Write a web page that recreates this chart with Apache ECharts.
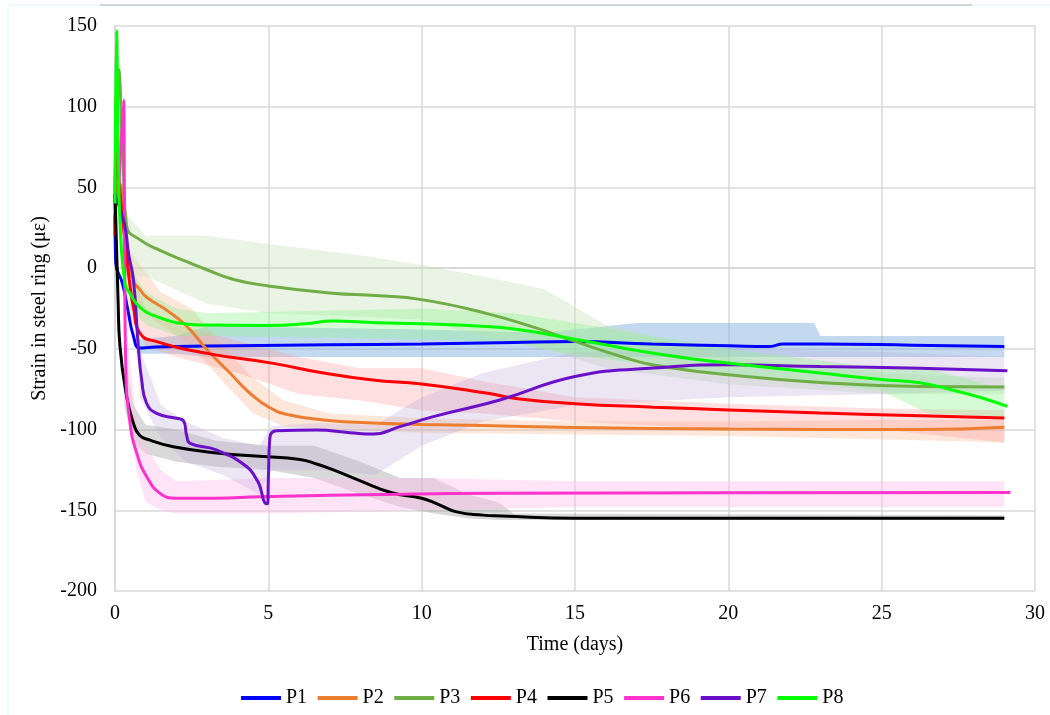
<!DOCTYPE html>
<html>
<head>
<meta charset="utf-8">
<script src="https://cdn.jsdelivr.net/npm/echarts@6/dist/echarts.min.js"></script>
<style>
  html, body { margin: 0; padding: 0; background: #ffffff; }
  #chart { width: 1050px; height: 715px; }
</style>
</head>
<body>
<div id="chart"></div>
<script>
// Smoothed strain readings per ring: [time (days), strain (µε)]
const P1 = [[0,33],[0.02,4],[0.25,-10],[0.42,-26],[0.6,-42],[0.8,-49.5],[1.2,-49],[2,-48.5],[4,-48],[7,-47.5],[10,-47],[13,-46],[15,-45.5],[17.5,-47],[20,-48],[21.3,-48.6],[21.8,-47],[23,-47],[26,-47.7],[29,-48.6]];
const P2 = [[0,45],[0.15,52],[0.3,30],[0.45,5],[0.6,-8],[0.8,-13],[1.03,-18],[1.68,-26],[2.34,-36],[3.0,-50.5],[3.75,-65],[4.4,-77.5],[5.05,-86.5],[5.7,-91],[6.8,-94],[8.4,-96],[10,-96.8],[12,-97.5],[15,-98.7],[20,-99.7],[26.25,-100],[29,-98.6]];
const P3 = [[0,40],[0.12,123],[0.27,62],[0.38,26],[0.82,17.5],[1.47,11],[2.34,4],[3.0,-1],[3.87,-7],[5,-11],[7.1,-15.5],[8.5,-17],[10,-19.5],[12.1,-28],[13.75,-37.2],[15,-45.4],[16.5,-54.7],[17.56,-60],[20,-66],[23,-70.8],[26.25,-73.3],[29,-73.6]];
const P4 = [[0,20],[0.03,72],[0.2,40],[0.35,12],[0.49,-11],[0.6,-24],[0.82,-40.5],[1.36,-45.5],[3,-52.8],[5.16,-59],[6.8,-65],[8.4,-69.3],[10,-71.8],[12.1,-77.4],[13.2,-81],[15,-84],[17.56,-86.1],[20,-87.8],[23,-89.8],[26.25,-91.5],[29,-92.8]];
const P5 = [[0,46],[0.1,-20],[0.16,-48],[0.38,-79.6],[0.6,-96],[0.8,-103.5],[1.14,-106.5],[1.9,-110.6],[3.4,-114.6],[4.7,-116.6],[6.03,-118.5],[6.6,-121.5],[7.12,-125],[7.9,-131],[9.0,-139],[10,-142.5],[10.5,-146],[11.14,-151],[12,-153],[12.6,-153.5],[15,-155],[20,-155],[29,-155]];
const P6 = [[0.1,40],[0.28,104],[0.31,20],[0.35,-60],[0.49,-96],[0.71,-114.7],[1.03,-129],[1.47,-139.5],[2,-142.5],[3.3,-142.5],[4.73,-141.6],[9.3,-140],[12.55,-139.5],[20,-139.2],[29.2,-139]];
const P7 = [[0,45],[0.3,28],[0.45,8],[0.6,-7],[0.76,-48.7],[0.87,-69.3],[1.03,-83.7],[1.36,-90],[2.0,-93],[2.23,-94.5],[2.34,-104],[2.45,-108.5],[3.3,-112.6],[4.3,-123],[4.62,-131],[4.73,-135.4],[4.89,-145.5],[4.97,-146],[5.0,-131],[5.05,-105],[5.27,-100.7],[6.58,-100.3],[7.66,-101.9],[8.42,-102.8],[9.29,-98.2],[10.38,-92],[12.55,-81.7],[15,-67.1],[17.56,-61.9],[20,-59.9],[23,-61],[26.25,-62],[29.1,-63.5]];
const P8 = [[0,40],[0.05,147],[0.11,71],[0.16,30],[0.33,-10],[0.5,-16],[0.7,-22],[1.0,-27],[1.36,-30],[2.0,-33.8],[2.8,-35.2],[5,-35.5],[6.2,-34.5],[7.1,-32.8],[8.5,-33.8],[10,-34.5],[12.1,-36.1],[13.2,-38.2],[15,-44],[17.56,-52.7],[20,-58.8],[23,-65],[25,-69],[26.25,-71],[27.4,-76],[28.2,-80],[29.1,-85.6]];

// Spread of the raw logger readings around each ring: [time, low, high]
const B1 = [[0.7,-53,-44],[2,-53,-42],[3,-55,-36],[10,-55,-38],[14,-55,-40],[17,-55,-34],[22.8,-55,-34],[23,-55,-42],[29,-55,-42]];
const B2 = [[0.5,-20,10],[1.5,-35,-15],[2.5,-48,-25],[3.5,-70,-48],[4.5,-90,-68],[5.5,-98,-82],[7,-100,-90],[10,-102,-93],[15,-103,-95],[20,-104,-95],[25,-106,-94],[29,-108,-94]];
const B3 = [[0.3,-5,35],[1,-5,20],[3,-22,20],[5,-28,15],[8,-30,8],[10,-32,2],[12,-42,-5],[14,-50,-13],[16,-62,-35],[20,-72,-55],[25,-78,-65],[29,-78,-68]];
const B4 = [[0.5,-30,0],[1,-48,-25],[2,-55,-35],[4,-65,-45],[6,-78,-55],[8,-82,-62],[10,-88,-62],[12,-90,-70],[15,-95,-80],[20,-100,-84],[25,-100,-87],[29,-108,-88]];
const B5 = [[0.3,-85,-50],[0.6,-108,-85],[1,-115,-97],[2,-120,-100],[3.3,-123,-107],[5,-125,-110],[6.5,-130,-110],[8,-140,-120],[9.3,-148,-130],[10.4,-152,-130],[11.5,-155,-140],[12.5,-156,-145],[13,-156,-152],[29,-156,-153]];
const B6 = [[0.4,-80,-40],[0.7,-125,-95],[1,-145,-110],[1.5,-150,-125],[2,-152,-132],[5,-152,-130],[10,-150,-130],[15,-148,-132],[20,-148,-132],[29,-148,-132]];
const B7 = [[0.8,-80,-50],[1.5,-105,-85],[2.3,-120,-95],[3.5,-128,-105],[4.7,-140,-110],[5.1,-125,-98],[6.5,-125,-96],[8.5,-128,-97],[10,-110,-80],[12,-95,-65],[15,-85,-52],[20,-80,-50],[25,-78,-52],[29,-76,-55]];
const B8 = [[0.2,0,60],[0.5,-25,0],[1,-35,-15],[2,-42,-25],[3,-42,-28],[10,-44,-25],[13,-46,-28],[15,-54,-34],[20,-66,-50],[25,-76,-62],[26.5,-90,-62],[29,-92,-75]];

const NAMES = ['P1','P2','P3','P4','P5','P6','P7','P8'];
const LINES = [P1, P2, P3, P4, P5, P6, P7, P8];
const RAW = [B1, B2, B3, B4, B5, B6, B7, B8];
const COLORS = ['#0000FF','#ED7D31','#70AD47','#FF0000','#000000','#FF33CC','#6A10C8','#00FF00'];
const RAW_COLORS = [
  'rgba(120,170,220,0.45)',
  'rgba(246,180,140,0.32)',
  'rgba(200,225,185,0.38)',
  'rgba(255,150,150,0.30)',
  'rgba(150,150,150,0.36)',
  'rgba(255,190,235,0.42)',
  'rgba(190,170,220,0.30)',
  'rgba(140,240,140,0.36)'
];

const FONT = 'Liberation Serif, Times New Roman, serif';
const chart = echarts.init(document.getElementById('chart'), null, { renderer: 'canvas' });

// Raw-reading envelopes drawn as filled polygons behind the smoothed curves
const bandSeries = {
  type: 'custom',
  name: 'raw',
  silent: true,
  z: 1,
  clip: true,
  data: RAW.map((_, i) => [0, i]),
  renderItem: function (params, api) {
    const rows = RAW[params.dataIndex];
    const upper = rows.map(r => api.coord([r[0], r[2]]));
    const lower = rows.slice().reverse().map(r => api.coord([r[0], r[1]]));
    return {
      type: 'polygon',
      shape: { points: upper.concat(lower) },
      style: { fill: RAW_COLORS[params.dataIndex] }
    };
  }
};

const lineSeries = NAMES.map((n, i) => ({
  type: 'line',
  name: n,
  data: LINES[i],
  smooth: 0.5,
  showSymbol: false,
  symbol: 'none',
  z: 2 + i,
  lineStyle: { color: COLORS[i], width: 3 },
  itemStyle: { color: COLORS[i] }
}));

chart.setOption({
  animation: false,
  backgroundColor: '#ffffff',
  textStyle: { fontFamily: FONT, color: '#000' },
  graphic: [
    { type: 'rect', shape: { x: 8, y: 5, width: 1060, height: 730 }, style: { fill: 'none', stroke: '#E2F6F6', lineWidth: 1 }, silent: true },
    { type: 'line', shape: { x1: 100, y1: 5, x2: 972, y2: 5 }, style: { stroke: '#CCD7D7', lineWidth: 2 }, silent: true }
  ],
  grid: { left: 115, top: 26, width: 920, height: 565, containLabel: false },
  legend: {
    data: NAMES,
    left: 236,
    top: 683,
    icon: 'rect',
    itemWidth: 40,
    itemHeight: 4,
    itemGap: 10.5,
    textStyle: { fontFamily: FONT, fontSize: 20, color: '#000' }
  },
  xAxis: {
    type: 'value',
    min: 0, max: 30, interval: 5,
    name: 'Time (days)',
    nameLocation: 'middle',
    nameGap: 44,
    nameTextStyle: { fontFamily: FONT, fontSize: 20, color: '#000' },
    axisLine: { show: true, lineStyle: { color: '#D6D6D6', width: 1.5 } },
    axisTick: { show: false },
    axisLabel: { fontFamily: FONT, fontSize: 20, color: '#000', margin: 13 },
    splitLine: { show: true, lineStyle: { color: '#D9D9D9', width: 1.5 } }
  },
  yAxis: {
    type: 'value',
    min: -200, max: 150, interval: 50,
    name: 'Strain in steel ring (με)',
    nameLocation: 'middle',
    nameGap: 52,
    nameTextStyle: { fontFamily: FONT, fontSize: 20, color: '#000' },
    axisLine: { show: true, lineStyle: { color: '#D6D6D6', width: 1.5 } },
    axisTick: { show: false },
    axisLabel: { fontFamily: FONT, fontSize: 20, color: '#000', margin: 18 },
    splitLine: { show: true, lineStyle: { color: '#D9D9D9', width: 1.5 } }
  },
  series: [bandSeries].concat(lineSeries)
});
</script>
</body>
</html>
